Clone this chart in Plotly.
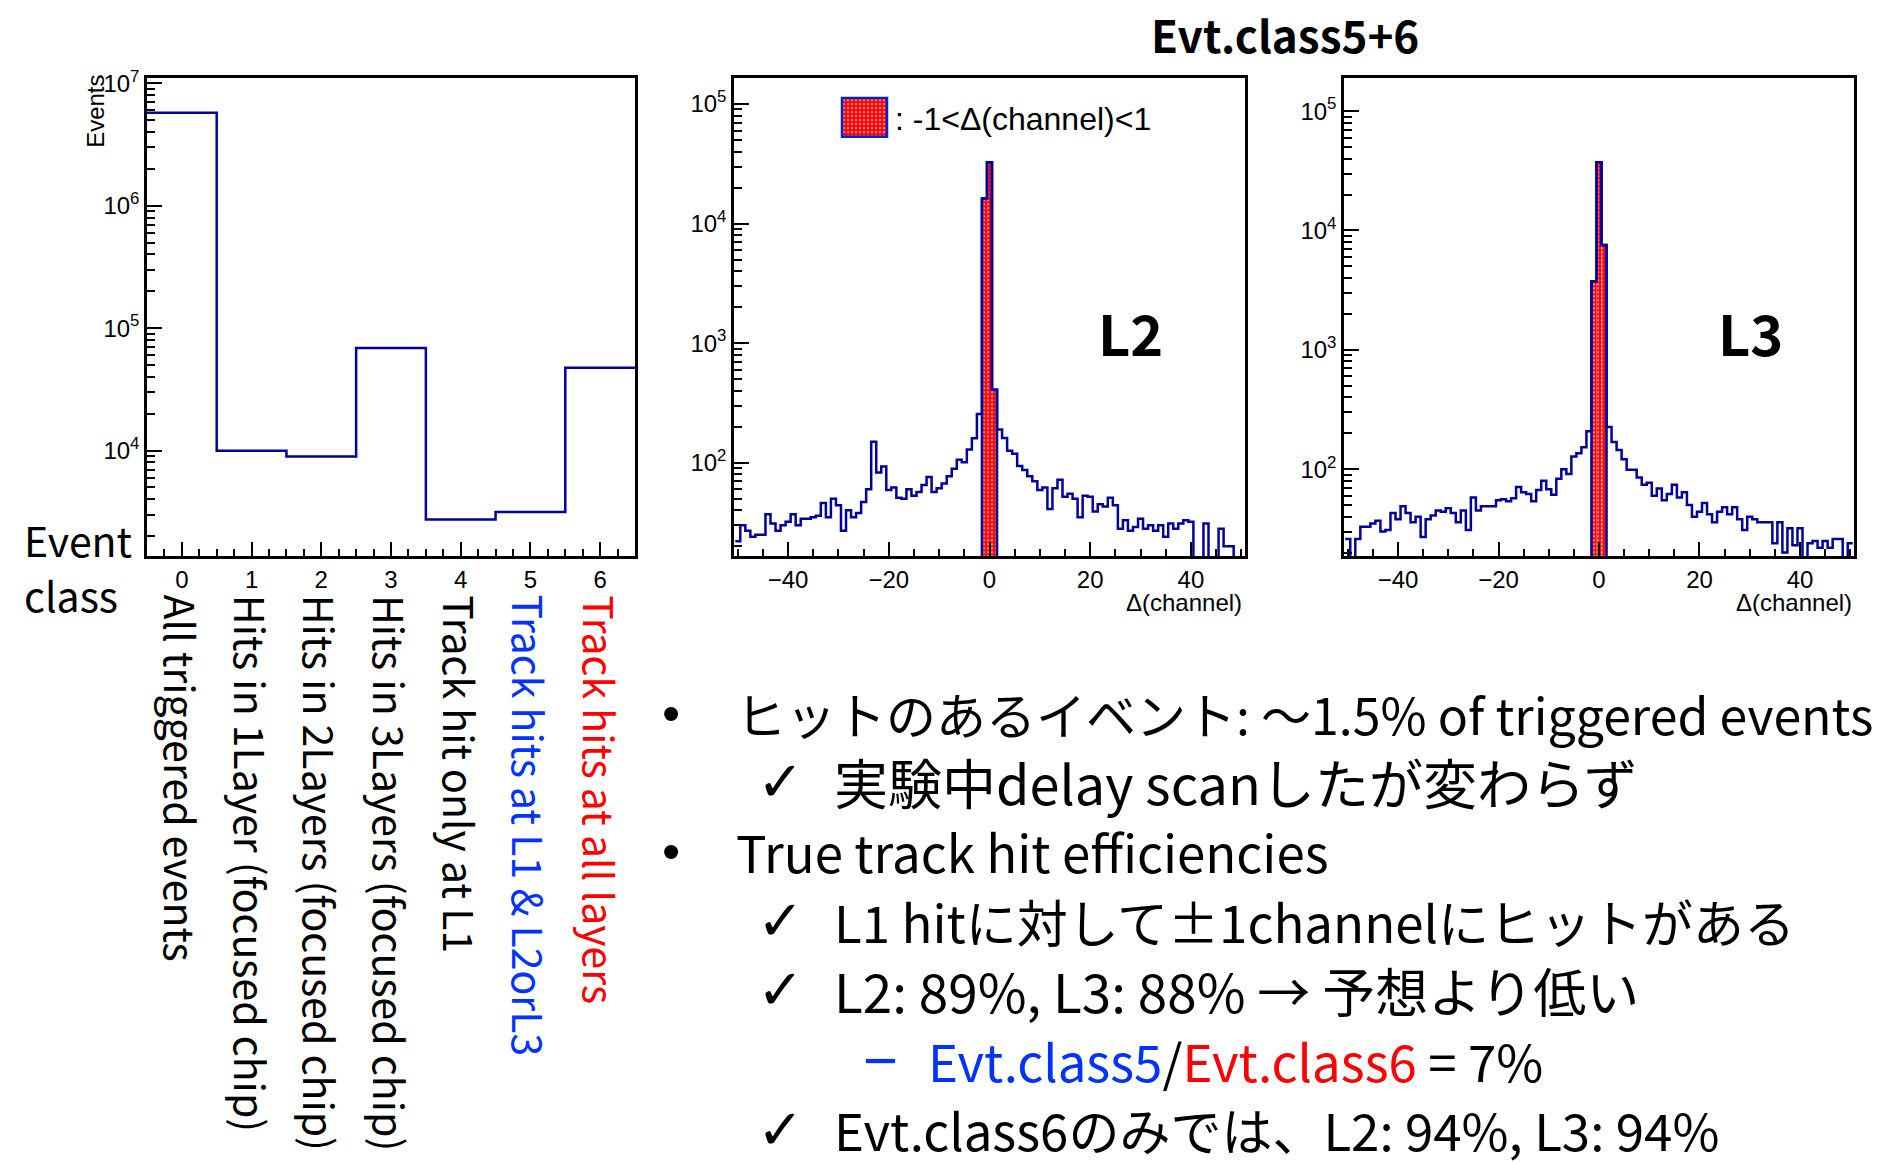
import numpy as np
import plotly.graph_objects as go

W, H = 1890, 1162

# ---------------- data ----------------
event_class = [0, 1, 2, 3, 4, 5, 6]
event_counts = [5730000, 10000, 8950, 69000, 2740, 3160, 47500]
class_labels = [
    "All triggered events",
    "Hits in 1Layer (focused chip)",
    "Hits in 2Layers (focused chip)",
    "Hits in 3Layers (focused chip)",
    "Track hit only at L1",
    "Track hits at L1 &amp; L2orL3",
    "Track hits at all layers",
]
class_colors = ["black", "black", "black", "black", "black", "#0033ff", "#ff0000"]

delta_channel = list(range(-50, 51))
l2_counts = [
    22, 30, 27, 24, 25, 25, 37, 31, 27, 30,
    32, 37, 30, 34, 34, 35, 36, 46, 35, 50,
    44, 27, 40, 35, 38, 47, 60, 150, 83, 93,
    59, 62, 51, 50, 60, 53, 57, 65, 76, 57,
    61, 67, 77, 89, 106, 101, 129, 160, 255, 16200,
    32600, 408, 190, 161, 126, 119, 94, 87, 77, 70,
    59, 62, 41, 61, 72, 52, 55, 50, 35, 53,
    52, 39, 45, 43, 51, 44, 28, 33, 27, 29,
    34, 28, 30, 27, 30, 24, 31, 28, 31, 33,
    32, 0, 0, 31, 0, 0, 28, 20, 20, 0, 0,
]
l3_counts = [
    26, 0, 26, 33, 33, 35, 37, 30, 31, 43,
    38, 49, 43, 36, 40, 27, 38, 41, 45, 44,
    47, 43, 36, 45, 31, 58, 45, 49, 49, 49,
    55, 56, 54, 57, 71, 64, 62, 54, 67, 80,
    68, 61, 83, 100, 91, 128, 136, 153, 208, 3760,
    37300, 7540, 226, 169, 145, 121, 99, 99, 85, 74,
    77, 60, 69, 55, 62, 74, 58, 64, 50, 40,
    44, 52, 42, 36, 44, 48, 42, 48, 38, 31,
    40, 38, 36, 36, 36, 24, 36, 20, 32, 23,
    32, 0, 24, 25, 22, 25, 22, 26, 26, 0, 24,
]
peak_window = [-1, 0, 1]          # bins inside -1<Δ(channel)<1 (±1 channel)
class_ticks = [0, 1, 2, 3, 4, 5, 6]
delta_ticks = [-40, -20, 0, 20, 40]
delta_tick_text = ["\u221240", "\u221220", "0", "20", "40"]

legend_text = ": -1&lt;\u0394(channel)&lt;1"
title_text = "Evt.class5+6"
bullet_lines = [
    "ヒットのあるイベント: ～1.5% of triggered events",
    "実験中delay scanしたが変わらず",
    "True track hit efficiencies",
    "L1 hitに対して±1channelにヒットがある",
    "L2: 89%, L3: 88% → 予想より低い",
    '<span style="color:#0033ff">Evt.class5</span>/<span style="color:#ff0000">Evt.class6</span> = 7%',
    "Evt.class6のみでは、L2: 94%, L3: 94%",
]

# ---------------- helpers ----------------
DY = -8  # vertical correction of the page placement


def px(x):
    return x / W


def py(y):
    return 1 - (y + DY) / H


HIST_BLUE = "#00009c"
FLOOR = 1.0  # empty bins are drawn below the visible range (like ROOT)
ROOT_FONT = "Liberation Sans, Arial, Helvetica, sans-serif"
SLIDE_FONT = "Noto Sans CJK JP, Noto Sans, sans-serif"
PATTERN = dict(shape=".", fgcolor="white", bgcolor="#ff0000", size=4, solidity=0.35)


def step_xy(centers, counts, floor=FLOOR):
    c = np.asarray(centers, float)
    v = np.asarray(counts, float)
    v = np.where(v > 0, v, floor)
    x = np.append(c - 0.5, c[-1] + 0.5)
    y = np.append(v, v[-1])
    return x, y


def log_ticks(lo, hi):
    ns = list(range(int(np.ceil(lo)), int(np.floor(hi)) + 1))
    majors = [10.0 ** n for n in ns]
    labels = ["10<sup>%d</sup>" % n for n in ns]
    minors = []
    for n in range(int(np.floor(lo)), int(np.ceil(hi)) + 1):
        for m in range(2, 10):
            v = m * 10.0 ** n
            if lo <= np.log10(v) <= hi:
                minors.append(v)
    return majors, labels, minors


fig = go.Figure()

# ---- left: event classes ----
x, y = step_xy(event_class, event_counts)
fig.add_trace(go.Scatter(x=x, y=y, mode="lines", line=dict(color=HIST_BLUE, width=2.5, shape="hv"),
                         xaxis="x", yaxis="y", showlegend=False, hoverinfo="skip"))

# ---- L2 / L3 ----
for counts, xa, ya in [(l2_counts, "x2", "y2"), (l3_counts, "x3", "y3")]:
    peak_vals = [counts[delta_channel.index(k)] for k in peak_window]
    fig.add_trace(go.Bar(x=peak_window, y=peak_vals, width=1,
                         marker=dict(color="#ff0000", line=dict(width=0), pattern=PATTERN),
                         xaxis=xa, yaxis=ya, showlegend=False, hoverinfo="skip"))
    ex, ey = step_xy(peak_window, peak_vals)
    ex = np.concatenate([[ex[0]], ex, [ex[-1]]])
    ey = np.concatenate([[FLOOR], ey, [FLOOR]])
    fig.add_trace(go.Scatter(x=ex, y=ey, mode="lines", line=dict(color=HIST_BLUE, width=2.5, shape="hv"),
                             xaxis=xa, yaxis=ya, showlegend=False, hoverinfo="skip"))
    x, y = step_xy(delta_channel, counts)
    fig.add_trace(go.Scatter(x=x, y=y, mode="lines", line=dict(color=HIST_BLUE, width=2.5, shape="hv"),
                             xaxis=xa, yaxis=ya, showlegend=False, hoverinfo="skip"))

# legend key swatch (own little axes)
fig.add_trace(go.Bar(x=[0], y=[1], width=1,
                     marker=dict(color="#ff0000", line=dict(width=0), pattern=PATTERN),
                     xaxis="x4", yaxis="y4", showlegend=False, hoverinfo="skip"))

# ---------------- axes ----------------
ydom = [py(558), py(75)]
frame = dict(showline=True, linewidth=2.5, linecolor="black", mirror=True,
             showgrid=False, zeroline=False, ticks="inside", tickcolor="black",
             tickwidth=2, ticklen=15, tickfont=dict(family=ROOT_FONT, size=24, color="black"))


def yaxis(lo, hi, anchor):
    majors, labels, minors = log_ticks(lo, hi)
    d = dict(frame)
    d.update(type="log", range=[lo, hi], domain=ydom, anchor=anchor,
             tickmode="array", tickvals=majors, ticktext=labels,
             minor=dict(tickmode="array", tickvals=minors, ticks="inside", ticklen=8,
                        tickwidth=2, tickcolor="black"))
    return d


xl = dict(frame)
xl.update(domain=[px(147), px(635)], range=[-0.5, 6.5], anchor="y",
          tickmode="array", tickvals=class_ticks, ticktext=[str(c) for c in class_ticks],
          minor=dict(tickmode="array",
                     tickvals=[v for v in np.arange(-0.25, 6.5, 0.25) if abs(v - round(v)) > 1e-6],
                     ticks="inside", ticklen=8, tickwidth=2, tickcolor="black"))


def xdelta(dom, anchor):
    d = dict(frame)
    d.update(domain=dom, range=[-50.75, 50.75], anchor=anchor,
             tickmode="array", tickvals=delta_ticks, ticktext=delta_tick_text,
             minor=dict(tickmode="array",
                        tickvals=[v for v in range(-50, 51, 5) if v not in delta_ticks],
                        ticks="inside", ticklen=8, tickwidth=2, tickcolor="black"))
    return d


fig.update_layout(
    width=W, height=H, margin=dict(l=0, r=0, t=0, b=0),
    paper_bgcolor="white", plot_bgcolor="white", showlegend=False, barmode="overlay",
    xaxis=xl, yaxis=yaxis(3.137, 7.04, "x"),
    xaxis2=xdelta([px(734), px(1245)], "y2"), yaxis2=yaxis(1.217, 5.215, "x2"),
    xaxis3=xdelta([px(1344), px(1854)], "y3"), yaxis3=yaxis(1.27, 5.275, "x3"),
    xaxis4=dict(domain=[px(842), px(887)], range=[-0.5, 0.5], visible=False, anchor="y4", fixedrange=True),
    yaxis4=dict(domain=[py(134), py(95)], range=[0, 1], visible=False, anchor="x4", fixedrange=True),
)

fig.add_shape(type="rect", xref="paper", yref="paper", x0=px(842), x1=px(887), y0=py(134), y1=py(95),
              line=dict(color="#0022cc", width=2.5), fillcolor="rgba(0,0,0,0)")

ann = []


def text(x, y, s, size, family=SLIDE_FONT, color="black", xanchor="left", yanchor="middle",
         angle=0, xref="paper", bold=False):
    ann.append(dict(x=x, y=y, xref=xref, yref="paper", text=("<b>%s</b>" % s) if bold else s,
                    showarrow=False, xanchor=xanchor, yanchor=yanchor, textangle=angle,
                    font=dict(family=family, size=size, color=color)))


# ROOT texts
text(px(96), py(70), "Events", 24, family=ROOT_FONT, xanchor="center", yanchor="top", angle=-90)
text(px(1244), py(605), "\u0394(channel)", 24, family=ROOT_FONT, xanchor="right")
text(px(1854), py(605), "\u0394(channel)", 24, family=ROOT_FONT, xanchor="right")
text(px(893), py(116), legend_text, 32, family=ROOT_FONT)
text(px(1130), py(331), "L2", 56, xanchor="center", bold=True)
text(px(1750), py(331), "L3", 56, xanchor="center", bold=True)
text(px(1285), py(30), title_text, 44, xanchor="center", bold=True)

# event class axis description
text(px(22), py(540), "Event", 41)
text(px(22), py(596), "class", 41)
for k, lab, col in zip(event_class, class_labels, class_colors):
    text(k, py(595), lab, 41, color=col, xanchor="center", yanchor="top", angle=90, xref="x")

# bullet text
line_y = [716, 786, 856, 926, 996, 1067, 1137]
line_x = [734, 832, 734, 832, 832, 926, 832]
line_size = [50, 54, 51, 51, 53, 51, 51]
for s, yy, xx, sz in zip(bullet_lines, line_y, line_x, line_size):
    text(px(xx), py(yy), s, sz)
for yy in (716, 856):
    text(px(671), py(yy), "\u2022", 52, family=ROOT_FONT, xanchor="center")
for yy in (786, 926, 996, 1137):
    text(px(780), py(yy), "\u2713", 56, family="DejaVu Sans", xanchor="center")
text(px(880), py(1067), "\u2212", 60, family=ROOT_FONT, color="#0033ff", xanchor="center")

fig.update_layout(annotations=ann)
fig.write_html("out.html")
